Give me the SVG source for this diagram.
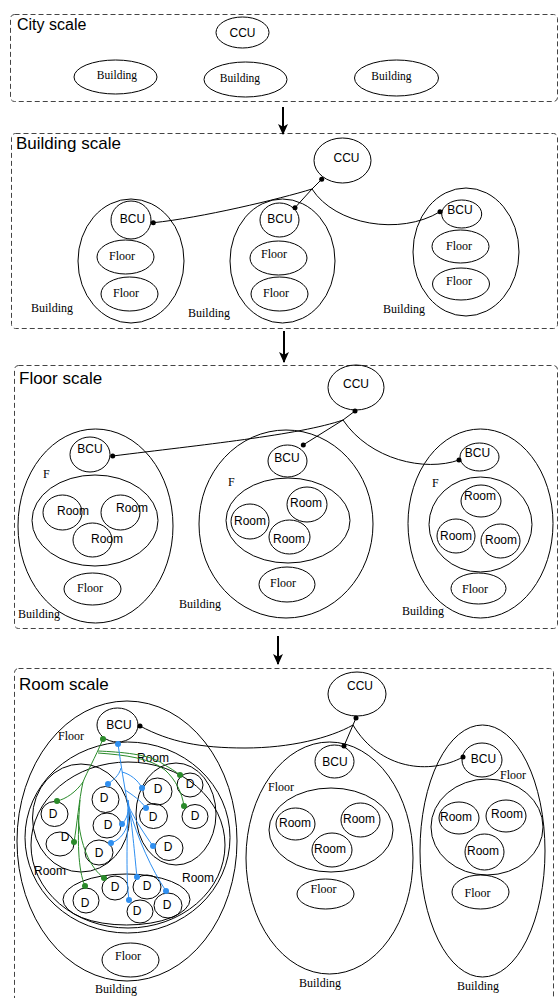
<svg xmlns="http://www.w3.org/2000/svg" width="558" height="998" viewBox="0 0 558 998">
<style>
.sec{fill:none;stroke:#444;stroke-width:1;stroke-dasharray:5 3}
.e{fill:none;stroke:#000;stroke-width:1}
.s{font-family:"Liberation Sans",Arial,sans-serif;fill:#000}
.t{font-family:"Liberation Serif","Times New Roman",serif;fill:#000}
.ti{font-size:17px}
.m{text-anchor:middle}
.f12{font-size:12px}
.cn{fill:none;stroke:#000;stroke-width:1}
.g{fill:none;stroke:#2a8a2a;stroke-width:1}
.b{fill:none;stroke:#2f8ff0;stroke-width:1}
.dk{fill:#000}
.dg{fill:#2a8a2a}
.db{fill:#2f8ff0}
.ar{stroke:#000;stroke-width:2;marker-end:url(#ah)}
</style>
<defs>
<marker id="ah" viewBox="0 0 10 10" refX="9" refY="5" markerWidth="11" markerHeight="11" markerUnits="userSpaceOnUse" orient="auto">
<path d="M0,0.5 L10,5 L0,9.5 L2.5,5 z" fill="#000"/>
</marker>
</defs>

<g id="frames">
<rect class="sec" x="10.5" y="14.5" width="547" height="87" rx="4"/>
<rect class="sec" x="11.5" y="133.5" width="546" height="195" rx="4"/>
<rect class="sec" x="14.5" y="365.5" width="543" height="263" rx="4"/>
<rect class="sec" x="14.5" y="668.5" width="539" height="340" rx="4"/>
<text class="s ti" x="17" y="30" style="font-size:16px">City scale</text>
<text class="s ti" x="16" y="149">Building scale</text>
<text class="s ti" x="19" y="384">Floor scale</text>
<text class="s ti" x="19" y="690">Room scale</text>
</g>

<g id="city-ccu"><ellipse class="e" cx="242.5" cy="32.5" rx="26.5" ry="15.5"/><text class="s f12 m" x="242.5" y="36.5">CCU</text></g>
<g id="city-b1"><ellipse class="e" cx="115.5" cy="77" rx="41.5" ry="17"/><text class="t m" style="font-size:11.5px" x="117" y="79">Building</text></g>
<g id="city-b2"><ellipse class="e" cx="245.5" cy="79.5" rx="41.5" ry="17.5"/><text class="t m" style="font-size:11.5px" x="240" y="82">Building</text></g>
<g id="city-b3"><ellipse class="e" cx="396.5" cy="78" rx="42" ry="18"/><text class="t m" style="font-size:11.5px" x="391.5" y="80">Building</text></g>

<g id="bs-ccu"><ellipse class="e" cx="342.5" cy="160.5" rx="28.5" ry="22.5"/><text class="s f12 m" x="346.5" y="162">CCU</text></g>
<g id="bs-b1">
<ellipse class="e" cx="131" cy="261" rx="53" ry="62"/>
<ellipse class="e" cx="131" cy="220" rx="20" ry="19"/><text class="s f12 m" x="132.5" y="223">BCU</text>
<ellipse class="e" cx="125.5" cy="257" rx="28.5" ry="17"/><text class="t f12 m" x="122" y="260">Floor</text>
<ellipse class="e" cx="129.5" cy="294" rx="28.5" ry="17"/><text class="t f12 m" x="126" y="297">Floor</text>
<text class="t f12" x="31" y="312">Building</text>
</g>
<g id="bs-b2">
<ellipse class="e" cx="282.5" cy="261" rx="52.5" ry="62"/>
<ellipse class="e" cx="279.5" cy="220" rx="19.5" ry="17"/><text class="s f12 m" x="280" y="223">BCU</text>
<ellipse class="e" cx="278.5" cy="258" rx="28.5" ry="17"/><text class="t f12 m" x="274" y="258">Floor</text>
<ellipse class="e" cx="279.5" cy="294" rx="28.5" ry="17"/><text class="t f12 m" x="276" y="297">Floor</text>
<text class="t f12" x="188" y="317">Building</text>
</g>
<g id="bs-b3">
<ellipse class="e" cx="466" cy="252" rx="53" ry="64"/>
<ellipse class="e" cx="461.7" cy="214" rx="20" ry="14"/><text class="s f12 m" x="460" y="214">BCU</text>
<ellipse class="e" cx="460.5" cy="246.5" rx="28.5" ry="16.5"/><text class="t f12 m" x="459" y="250">Floor</text>
<ellipse class="e" cx="461" cy="284" rx="28.5" ry="16"/><text class="t f12 m" x="459" y="285">Floor</text>
<text class="t f12" x="383" y="313">Building</text>
</g>

<g id="fs-ccu"><ellipse class="e" cx="356" cy="387.5" rx="28" ry="22.5"/><text class="s f12 m" x="356" y="388">CCU</text></g>
<g id="fs-b1">
<ellipse class="e" cx="95.5" cy="526" rx="77.5" ry="97"/>
<ellipse class="e" cx="90" cy="454.5" rx="20" ry="17.5"/><text class="s f12 m" x="90" y="453">BCU</text>
<text class="t f12" x="43" y="478">F</text>
<ellipse class="e" cx="95" cy="520.5" rx="63" ry="45.5"/>
<ellipse class="e" cx="62.5" cy="512.5" rx="19.5" ry="17.5"/><text class="s f12" x="57" y="515">Room</text>
<ellipse class="e" cx="120.5" cy="512.5" rx="19.5" ry="17.5"/><text class="s f12" x="116" y="512">Room</text>
<ellipse class="e" cx="92.5" cy="540" rx="19.5" ry="17"/><text class="s f12" x="91" y="543">Room</text>
<ellipse class="e" cx="92.5" cy="589" rx="28.5" ry="16"/><text class="t f12 m" x="90" y="592">Floor</text>
<text class="t f12" x="18" y="618">Building</text>
</g>
<g id="fs-b2">
<ellipse class="e" cx="286" cy="524" rx="87" ry="94"/>
<ellipse class="e" cx="287.5" cy="461" rx="19.5" ry="16"/><text class="s f12 m" x="287" y="462">BCU</text>
<text class="t f12" x="228" y="486">F</text>
<ellipse class="e" cx="288" cy="520.5" rx="62" ry="42.5"/>
<ellipse class="e" cx="250" cy="521.5" rx="19" ry="17.5"/><text class="s f12" x="234" y="525">Room</text>
<ellipse class="e" cx="307" cy="504.5" rx="20" ry="17.5"/><text class="s f12" x="290" y="507">Room</text>
<ellipse class="e" cx="289.5" cy="537" rx="20.5" ry="17"/><text class="s f12" x="273" y="543">Room</text>
<ellipse class="e" cx="287" cy="584.5" rx="28" ry="17.5"/><text class="t f12 m" x="283" y="587">Floor</text>
<text class="t f12" x="179" y="608">Building</text>
</g>
<g id="fs-b3">
<ellipse class="e" cx="480.5" cy="523.5" rx="72.5" ry="94.5"/>
<ellipse class="e" cx="479.5" cy="457" rx="19.5" ry="14"/><text class="s f12 m" x="477.5" y="457">BCU</text>
<text class="t f12" x="432" y="487">F</text>
<ellipse class="e" cx="480.5" cy="524.5" rx="51.5" ry="47.5"/>
<ellipse class="e" cx="481" cy="501" rx="20" ry="16"/><text class="s f12" x="464" y="500">Room</text>
<ellipse class="e" cx="456" cy="536" rx="19" ry="17"/><text class="s f12" x="440" y="540">Room</text>
<ellipse class="e" cx="500.5" cy="541" rx="19.5" ry="17"/><text class="s f12" x="485" y="544">Room</text>
<ellipse class="e" cx="478.5" cy="588.5" rx="27.5" ry="15.5"/><text class="t f12 m" x="475" y="593">Floor</text>
<text class="t f12" x="402" y="615">Building</text>
</g>

<g id="rs-ccu"><ellipse class="e" cx="357" cy="694" rx="29" ry="22"/><text class="s f12 m" x="360" y="690">CCU</text></g>
<g id="rs-b1">
<ellipse class="e" cx="127" cy="841" rx="110" ry="140"/>
<ellipse class="e" cx="117.5" cy="725" rx="20.5" ry="17"/><text class="s f12 m" x="119" y="729">BCU</text>
<text class="t f12" x="58" y="740">Floor</text>
<ellipse class="e" cx="127.5" cy="837.5" rx="102.5" ry="95.5"/>
<ellipse class="e" cx="128" cy="845" rx="97" ry="83"/>
<text class="s f12" x="137" y="762">Room</text>
<ellipse class="e" cx="81" cy="818" rx="48.5" ry="54"/>
<text class="s f12" x="34" y="875">Room</text>
<ellipse class="e" cx="176" cy="814" rx="40" ry="51"/>
<text class="s f12" x="182" y="882">Room</text>
<ellipse class="e" cx="126.5" cy="899.5" rx="63.5" ry="25.5"/>
<ellipse class="e" cx="130.5" cy="960" rx="28.5" ry="17"/><text class="t f12 m" x="128" y="960">Floor</text>
<text class="t f12" x="95" y="993">Building</text>
</g>
<g id="rs-d">
<ellipse class="e" cx="54.5" cy="814" rx="13.5" ry="12.5"/><text class="s f12 m" x="53" y="818">D</text>
<ellipse class="e" cx="60" cy="844" rx="14" ry="12"/><text class="s f12 m" x="65" y="841">D</text>
<ellipse class="e" cx="105.5" cy="799.5" rx="13.5" ry="13"/><text class="s f12 m" x="104" y="802">D</text>
<ellipse class="e" cx="107" cy="825.5" rx="14" ry="12.5"/><text class="s f12 m" x="108" y="829">D</text>
<ellipse class="e" cx="99" cy="852.5" rx="14" ry="12.5"/><text class="s f12 m" x="99" y="857">D</text>
<ellipse class="e" cx="157.5" cy="791.5" rx="14.5" ry="13.5"/><text class="s f12 m" x="158" y="793">D</text>
<ellipse class="e" cx="190" cy="785" rx="13" ry="12"/><text class="s f12 m" x="190" y="788">D</text>
<ellipse class="e" cx="153.5" cy="816" rx="14" ry="12.5"/><text class="s f12 m" x="153" y="821">D</text>
<ellipse class="e" cx="195" cy="816.5" rx="13" ry="12"/><text class="s f12 m" x="195" y="820">D</text>
<ellipse class="e" cx="169" cy="848" rx="14" ry="12.5"/><text class="s f12 m" x="168" y="851">D</text>
<ellipse class="e" cx="86" cy="900.5" rx="13" ry="12.5"/><text class="s f12 m" x="85" y="907">D</text>
<ellipse class="e" cx="115" cy="888" rx="13" ry="12"/><text class="s f12 m" x="115" y="891">D</text>
<ellipse class="e" cx="147" cy="887" rx="14" ry="12"/><text class="s f12 m" x="147" y="890">D</text>
<ellipse class="e" cx="140" cy="911.5" rx="13" ry="11.5"/><text class="s f12 m" x="137" y="915">D</text>
<ellipse class="e" cx="168" cy="905.5" rx="14" ry="12.5"/><text class="s f12 m" x="167" y="909">D</text>
</g>
<g id="rs-b2">
<ellipse class="e" cx="329.5" cy="858" rx="83.5" ry="116"/>
<ellipse class="e" cx="334.5" cy="761.5" rx="19.5" ry="16.5"/><text class="s f12 m" x="335" y="766">BCU</text>
<text class="t f12" x="268" y="791">Floor</text>
<ellipse class="e" cx="331" cy="830" rx="62" ry="42"/>
<ellipse class="e" cx="295.5" cy="824" rx="19.5" ry="16"/><text class="s f12" x="279" y="827">Room</text>
<ellipse class="e" cx="360.5" cy="820" rx="19.5" ry="17"/><text class="s f12" x="343" y="823">Room</text>
<ellipse class="e" cx="332" cy="850" rx="20" ry="17"/><text class="s f12" x="314" y="853">Room</text>
<ellipse class="e" cx="325.5" cy="894" rx="28.5" ry="15"/><text class="t f12 m" x="323.5" y="893">Floor</text>
<text class="t f12" x="299" y="987">Building</text>
</g>
<g id="rs-b3">
<ellipse class="e" cx="482.5" cy="851" rx="62.5" ry="126"/>
<ellipse class="e" cx="482" cy="760" rx="20" ry="17"/><text class="s f12 m" x="483.5" y="763">BCU</text>
<text class="t f12" x="500" y="779">Floor</text>
<ellipse class="e" cx="487" cy="827" rx="56" ry="48"/>
<ellipse class="e" cx="459" cy="818" rx="20" ry="16"/><text class="s f12" x="440" y="821">Room</text>
<ellipse class="e" cx="506" cy="816" rx="20" ry="16"/><text class="s f12" x="491" y="818">Room</text>
<ellipse class="e" cx="484.5" cy="852" rx="19.5" ry="18"/><text class="s f12" x="467" y="855">Room</text>
<ellipse class="e" cx="480.5" cy="892" rx="28.5" ry="17"/><text class="t f12 m" x="477.5" y="897">Floor</text>
<text class="t f12" x="457" y="990">Building</text>
</g>

<g id="connectors">
<line class="ar" x1="283" y1="107" x2="283" y2="134"/>
<line class="ar" x1="284" y1="331" x2="284" y2="362"/>
<line class="ar" x1="278" y1="636" x2="278" y2="664"/>

<path class="cn" d="M321.7,179.3 L312,189 L295,207.7"/>
<path class="cn" d="M312,189 C280,199 200,218 153.3,222.7"/>
<path class="cn" d="M312,189 C335,225 400,236 440,211.7"/>
<circle class="dk" cx="321.7" cy="179.3" r="2.5"/>
<circle class="dk" cx="295" cy="207.7" r="2.5"/>
<circle class="dk" cx="153.3" cy="222.7" r="2.5"/>
<circle class="dk" cx="440" cy="211.7" r="2.5"/>

<path class="cn" d="M355,411 L343,420 L303,445"/>
<path class="cn" d="M343,420 C300,435 200,445 112.7,456"/>
<path class="cn" d="M343,420 C370,460 425,472 459,460"/>
<circle class="dk" cx="355" cy="411" r="2.5"/>
<circle class="dk" cx="303.3" cy="445" r="2.5"/>
<circle class="dk" cx="112.7" cy="456" r="2.5"/>
<circle class="dk" cx="459" cy="460" r="2.5"/>

<path class="cn" d="M356,718 L353,725 L344,746"/>
<path class="cn" d="M140,726 C170,742 200,748 245,748 C290,748 330,738 353,725"/>
<path class="cn" d="M353,725 C380,770 430,775 463,757"/>
<circle class="dk" cx="356" cy="718" r="2.5"/>
<circle class="dk" cx="344" cy="746" r="2.5"/>
<circle class="dk" cx="140" cy="726" r="2.5"/>
<circle class="dk" cx="463" cy="757" r="2.5"/>

<path class="g" d="M103,739 C95,758 87,772 83,782 C76,792 66,799 57,801"/>
<path class="g" d="M83,782 C79,800 77,825 74,842"/>
<path class="g" d="M80,800 C77,840 78,870 85,886"/>
<path class="g" d="M78,815 C80,845 90,868 104,878"/>
<path class="g" d="M98,751 C120,752 150,754 163,764 C170,768 175,771 180,775"/>
<path class="g" d="M98,753 C125,755 150,758 165,770 C176,780 182,793 184,806"/>
<circle class="dg" cx="103" cy="739" r="3"/>
<circle class="dg" cx="57" cy="801" r="3"/>
<circle class="dg" cx="74" cy="842" r="3"/>
<circle class="dg" cx="85" cy="886" r="3"/>
<circle class="dg" cx="104" cy="878" r="3"/>
<circle class="dg" cx="180" cy="775" r="3"/>
<circle class="dg" cx="184" cy="806" r="3"/>

<path class="b" d="M118,744 C121,765 124,785 128,805"/>
<path class="b" d="M121,768 C119,776 113,780 108,784"/>
<path class="b" d="M122,772 C130,774 138,780 142,788"/>
<path class="b" d="M125,790 C133,795 141,801 146,808"/>
<path class="b" d="M128,800 C130,812 126,820 122,824"/>
<path class="b" d="M128,805 C132,825 122,840 111,843"/>
<path class="b" d="M128,805 C135,820 145,835 153,846"/>
<path class="b" d="M128,800 C133,830 135,860 137,877"/>
<path class="b" d="M128,805 C127,840 126,880 129,900"/>
<path class="b" d="M128,805 C138,840 152,870 166,891"/>
<circle class="db" cx="118" cy="744" r="3"/>
<circle class="db" cx="108" cy="784" r="3"/>
<circle class="db" cx="142" cy="788" r="3"/>
<circle class="db" cx="146" cy="808" r="3"/>
<circle class="db" cx="122" cy="824" r="3"/>
<circle class="db" cx="111" cy="843" r="3"/>
<circle class="db" cx="153" cy="846" r="3"/>
<circle class="db" cx="137" cy="877" r="3"/>
<circle class="db" cx="129" cy="900" r="3"/>
<circle class="db" cx="166" cy="891" r="3"/>
</g>
</svg>
